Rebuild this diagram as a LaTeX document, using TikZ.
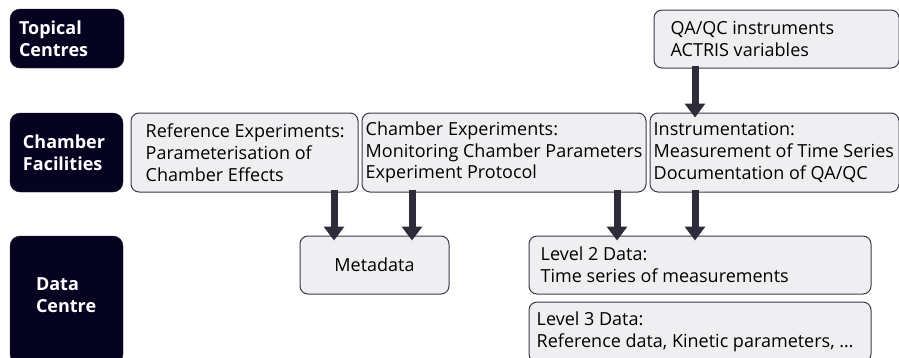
\documentclass[tikz,border=0pt]{standalone}
\usepackage{fontspec}
\setmainfont{Open Sans}
\usetikzlibrary{arrows.meta}
\definecolor{navy}{HTML}{05031F}
\definecolor{boxfill}{HTML}{EFEFF2}
\definecolor{boxline}{HTML}{3A3A48}
\definecolor{arr}{HTML}{2C2C3A}
\begin{document}
\begin{tikzpicture}[x=1pt,y=-1pt,
  lab/.style={fill=navy, draw=navy!80!gray, rounded corners=10pt, inner sep=0pt},
  labtxt/.style={text=white, font=\fontsize{18}{21.7}\selectfont\bfseries, align=left, inner sep=0pt, anchor=west},
  gbox/.style={fill=boxfill, draw=boxline, line width=1pt, rounded corners=8pt, inner sep=0pt},
  txt/.style={font=\fontsize{18}{21.7}\selectfont, align=left, inner sep=0pt, anchor=west},
  blk/.style={draw=arr, line width=7pt, -{Triangle[width=20pt,length=14pt]}, shorten >=-1pt}]
\useasboundingbox (0,0) rectangle (899,357);
% row labels
\node[lab, minimum width=114pt, minimum height=59pt] (tc) at (67,38.5) {};
\node[labtxt] (tct) at ([xshift=9pt]tc.west) {Topical\\Centres};
\node[lab, minimum width=113pt, minimum height=79pt] (cf) at (66.5,152.5) {};
\node[labtxt] (cft) at ([xshift=13pt]cf.west) {Chamber\\Facilities};
\node[lab, minimum width=113pt, minimum height=128pt] (dc) at (66.5,300) {};
\node[labtxt] (dct) at ([xshift=26pt,yshift=5pt]dc.west) {Data\\Centre};
% chamber facility boxes
\node[gbox, minimum width=227pt, minimum height=79pt] (ref) at (244.5,152.5) {};
\node[txt] (reft) at ([xshift=15pt]ref.west) {Reference Experiments:\\Parameterisation of\\Chamber Effects};
\node[gbox, minimum width=284pt, minimum height=79pt] (ce) at (504,152.5) {};
\node[txt] (cet) at ([xshift=4pt]ce.west) {Chamber Experiments:\\Monitoring Chamber Parameters\\Experiment Protocol};
\node[gbox, minimum width=249pt, minimum height=79pt] (ins) at (774.5,152.5) {};
\node[txt] (inst) at ([xshift=4pt]ins.west) {Instrumentation:\\Measurement of Time Series\\Documentation of QA/QC};
% topical centre box
\node[gbox, minimum width=245pt, minimum height=58pt] (qa) at (776.5,39) {};
\node[txt] (qat) at ([xshift=17pt]qa.west) {QA/QC instruments\\ACTRIS variables};
% data centre boxes
\node[gbox, minimum width=149pt, minimum height=58pt, font=\fontsize{18}{21.7}\selectfont] (meta) at (374.5,265) {Metadata};
\node[gbox, minimum width=342pt, minimum height=58pt] (l2) at (700,265) {};
\node[txt] (l2t) at ([xshift=12pt]l2.west) {Level 2 Data:\\Time series of measurements};
\node[gbox, minimum width=342pt, minimum height=60pt] (l3) at (700,332) {};
\node[txt] (l3t) at ([xshift=8pt]l3.west) {Level 3 Data:\\Reference data, Kinetic parameters, \dots};
% arrows
\draw[blk] ([yshift=3pt]qa.south -| 695,0) -- ([yshift=-4pt]ins.north -| 695,0);
\draw[blk] ([yshift=3pt]ref.south -| 334,0) -- ([yshift=-4pt]meta.north -| 334,0);
\draw[blk] ([yshift=3pt]ce.south -| 412,0) -- ([yshift=-4pt]meta.north -| 412,0);
\draw[blk] ([yshift=3pt]ce.south -| 617,0) -- ([yshift=-4pt]l2.north -| 617,0);
\draw[blk] ([yshift=3pt]ins.south -| 695,0) -- ([yshift=-4pt]l2.north -| 695,0);
\end{tikzpicture}
\end{document}
